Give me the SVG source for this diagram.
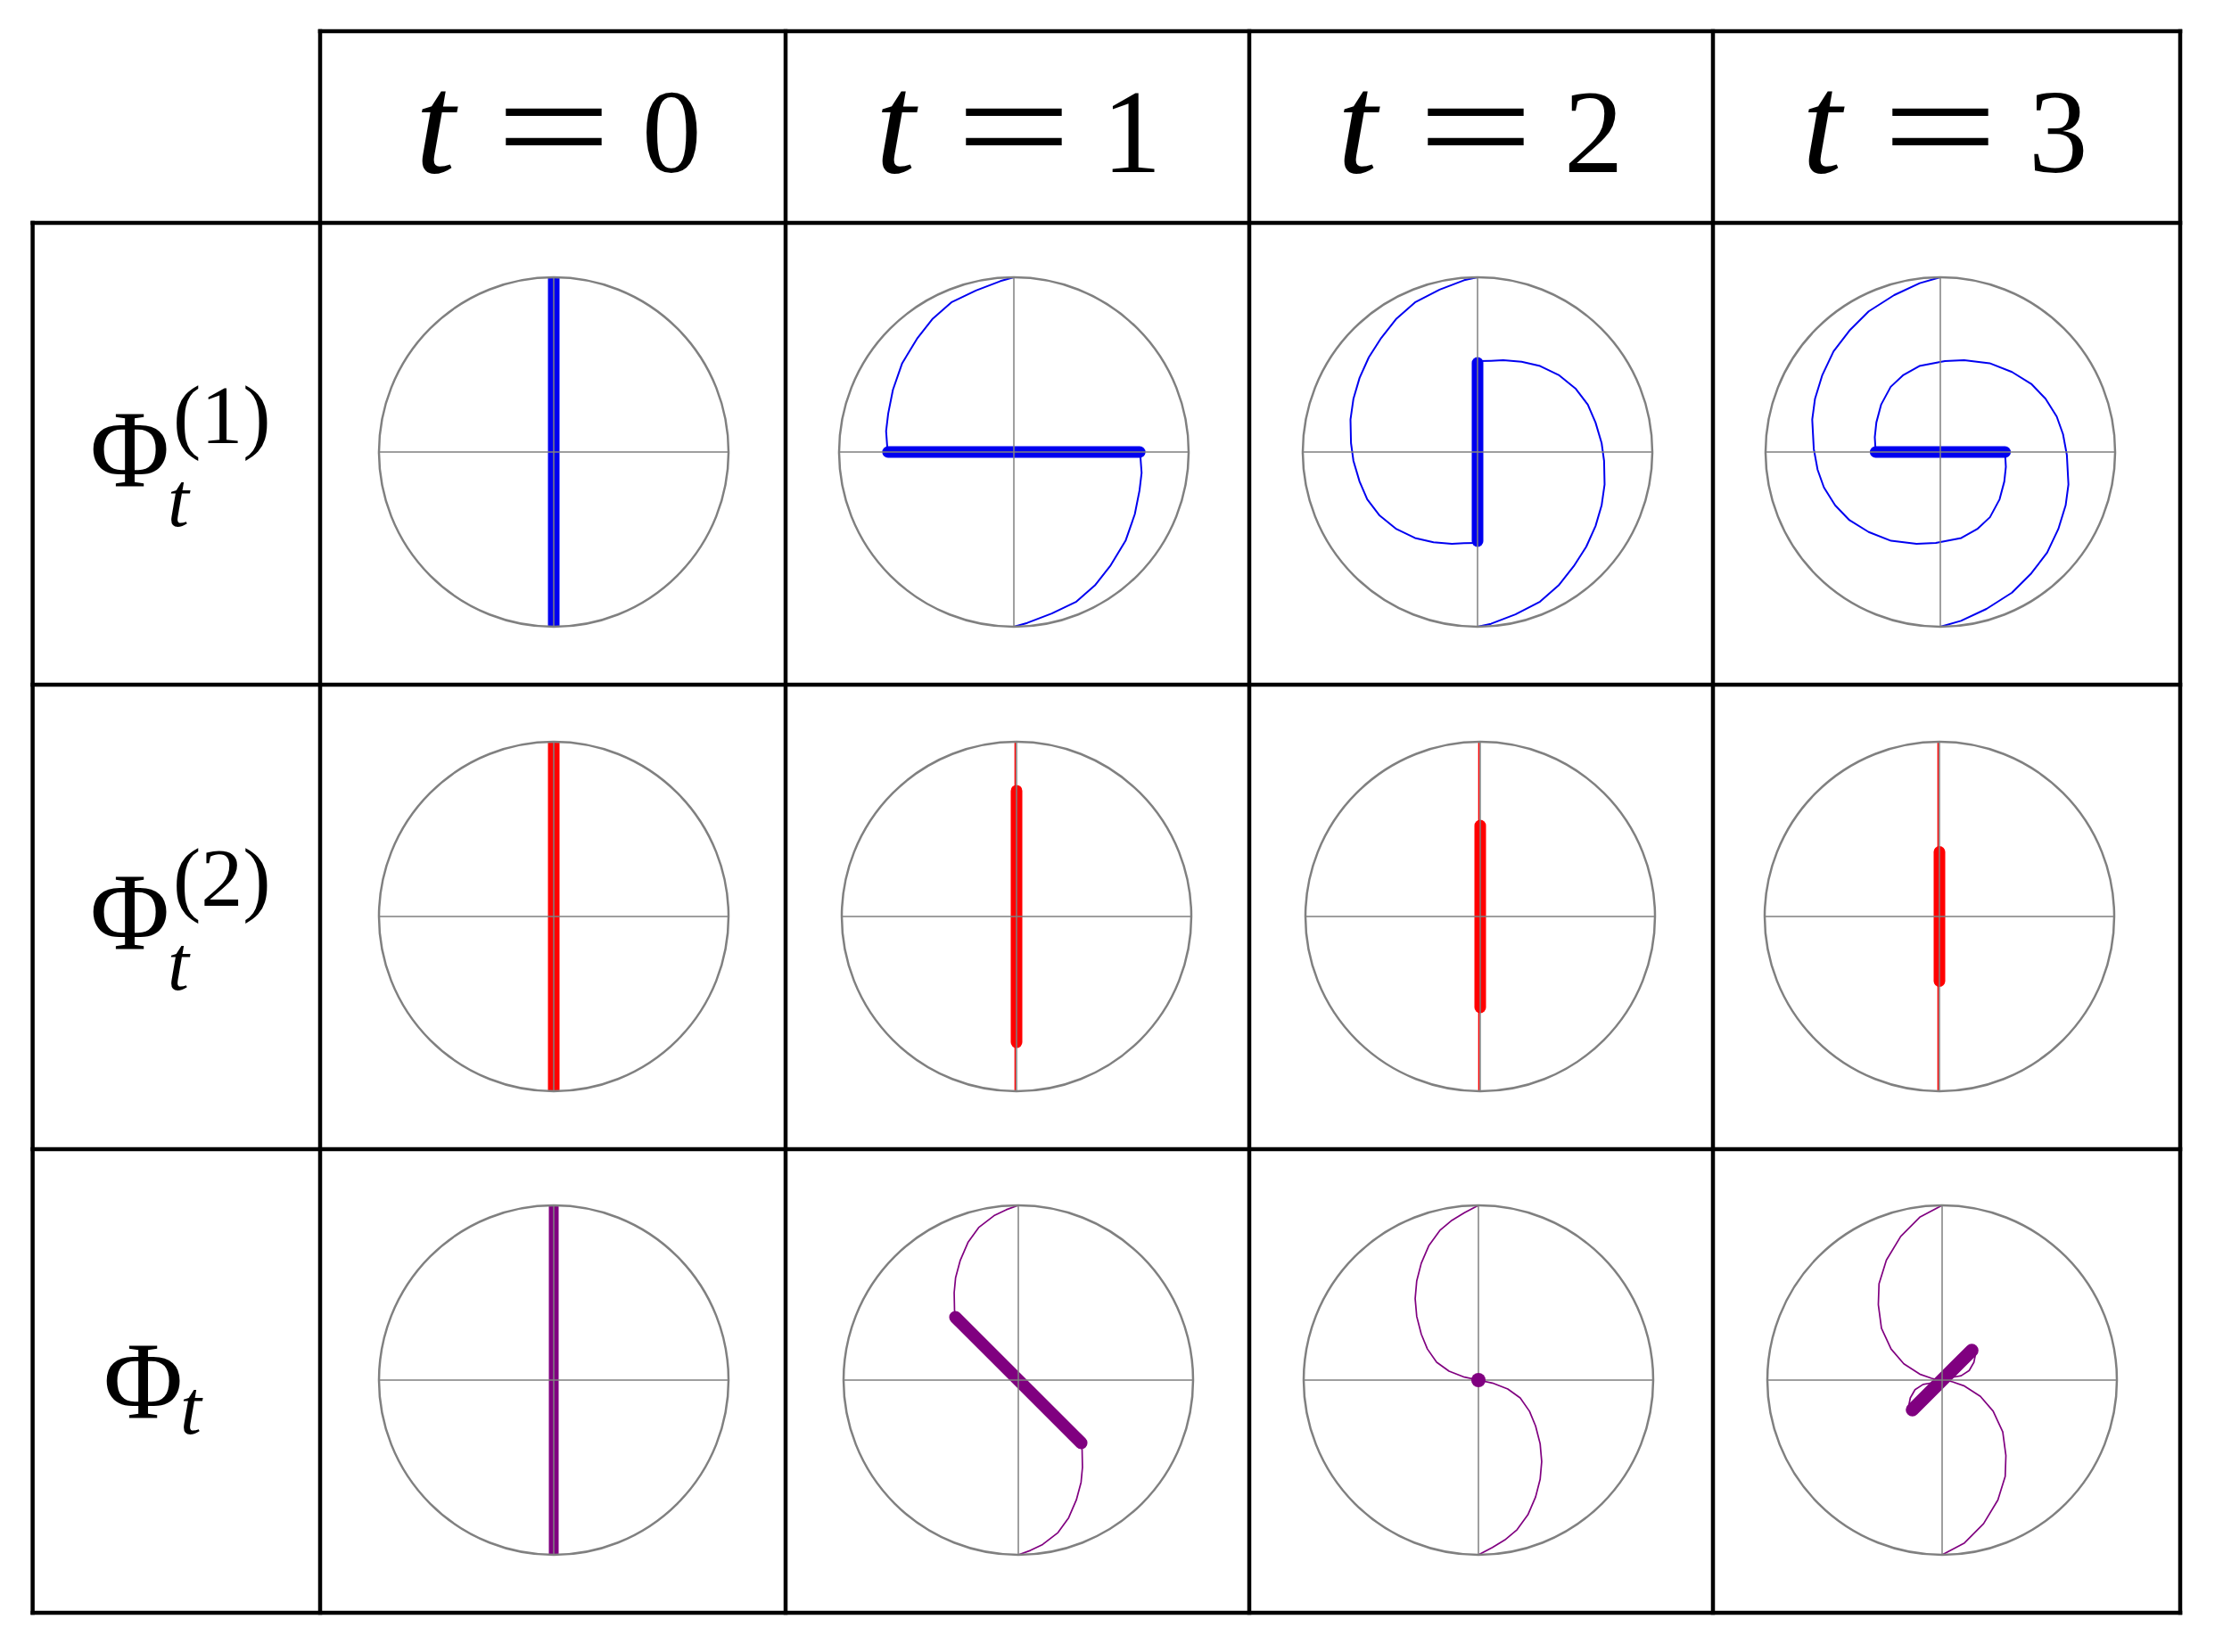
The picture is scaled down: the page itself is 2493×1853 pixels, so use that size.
<svg xmlns="http://www.w3.org/2000/svg" width="2493" height="1853" viewBox="0 0 2493 1853">
<style>
text{font-family:"Liberation Serif","Times New Roman",serif;fill:#000}
.it{font-style:italic}
.hd{font-size:133px}
.ht{font-size:160px}
.eq{font-size:165px;text-anchor:middle}
.phi{font-size:122px}
.sub{font-size:86px}
.sup{font-size:94px}
.grid{fill:none;stroke:#000;stroke-width:4.5;stroke-linecap:square}
.ring{fill:none;stroke:#808080;stroke-width:2.5;vector-effect:non-scaling-stroke}
.axis{fill:none;stroke:#808080;stroke-width:1.5;vector-effect:non-scaling-stroke}
.thin{fill:none;stroke-width:2;stroke-linejoin:round;vector-effect:non-scaling-stroke}
.bar{fill:none;stroke-width:13;stroke-linecap:round;vector-effect:non-scaling-stroke}
.full{stroke-linecap:butt}
.b{stroke:#0000f0}
.r{stroke:#ff0000}
.p{stroke:#800080}
</style>
<defs>
<g id="dial">
<circle class="ring" r="100"/>
<path class="axis" d="M-100 0H100M0 -100V100"/>
</g>
</defs>
<rect width="2493" height="1853" fill="#fff"/>

<g id="grid">
<path class="grid" d="M359 35H2445M36.6 250H2445M36.6 768H2445M36.6 1289H2445M36.6 1809H2445"/>
<path class="grid" d="M36.6 250V1809M359 35V1809M881 35V1809M1401 35V1809M1921 35V1809M2445 35V1809"/>
</g>

<g id="header-t0"><text class="ht it" x="466" y="193">t</text><text class="eq" transform="translate(621 197) scale(1.4 1)">=</text><text class="hd" x="720" y="193">0</text></g>
<g id="header-t1"><text class="ht it" x="982" y="193">t</text><text class="eq" transform="translate(1137 197) scale(1.4 1)">=</text><text class="hd" x="1236" y="193">1</text></g>
<g id="header-t2"><text class="ht it" x="1500" y="193">t</text><text class="eq" transform="translate(1655 197) scale(1.4 1)">=</text><text class="hd" x="1754" y="193">2</text></g>
<g id="header-t3"><text class="ht it" x="2021" y="193">t</text><text class="eq" transform="translate(2176 197) scale(1.4 1)">=</text><text class="hd" x="2275" y="193">3</text></g>

<g id="label-phi1"><text class="phi" x="101" y="545">Φ</text><text class="sub it" x="188" y="590">t</text><text class="sup" x="194" y="497">(1)</text></g>
<g id="label-phi2"><text class="phi" x="101" y="1064">Φ</text><text class="sub it" x="188" y="1110">t</text><text class="sup" x="194" y="1016">(2)</text></g>
<g id="label-phi"><text class="phi" x="116" y="1590">Φ</text><text class="sub it" x="202" y="1608">t</text></g>

<g id="cell-phi1-t0" transform="translate(621 507) scale(1.96)">
<path class="bar full b" d="M0 -100V100"/>
<use href="#dial"/>
</g>
<g id="cell-phi1-t1" transform="translate(1137 507) scale(1.96)">
<path class="thin b" d="M0 -100L-7.7 -97.8L-21.7 -92.4L-35.8 -85.6L-46.4 -76.3L-55.1 -65.3L-63.9 -50.8L-69.2 -35.6L-71.9 -22L-73.1 -11.9L-72.4 -2.5L-72 0M0 100L7.7 97.8L21.7 92.4L35.8 85.6L46.4 76.3L55.1 65.3L63.9 50.8L69.2 35.6L71.9 22L73.1 11.9L72.4 2.5L72 0"/>
<path class="bar b" d="M-72 0H72"/>
<use href="#dial"/>
</g>
<g id="cell-phi1-t2" transform="translate(1657 507) scale(1.96)">
<path class="thin b" d="M0 -100L-7.7 -98.3L-21.7 -92.9L-35.8 -85.6L-46.4 -76.3L-55.1 -65.3L-62.2 -54.2L-67.5 -42.4L-71 -30.5L-72.7 -18.6L-72.4 -5.1L-71 5.1L-67.5 16.9L-63.1 27.1L-56 36.4L-46.4 44.1L-35.8 49.2L-25.2 51.7L-14.7 52.5L-7.7 52.2L0 52M0 100L7.7 98.3L21.7 92.9L35.8 85.6L46.4 76.3L55.1 65.3L62.2 54.2L67.5 42.4L71 30.5L72.7 18.6L72.4 5.1L71 -5.1L67.5 -16.9L63.1 -27.1L56 -36.4L46.4 -44.1L35.8 -49.2L25.2 -51.7L14.7 -52.5L7.7 -52.2L0 -52"/>
<path class="bar b" d="M0 -51V51"/>
<use href="#dial"/>
</g>
<g id="cell-phi1-t3" transform="translate(2176 507) scale(1.96)">
<path class="thin b" d="M0 -100L-11.8 -96.6L-26.4 -89.8L-41 -80.5L-52 -69.5L-61.1 -57.6L-67.5 -44.1L-71.7 -30.5L-73.3 -18.6L-72.4 -1.7L-70.2 10.2L-66.6 20.3L-60.2 30.5L-52 39L-41 45.8L-28.2 50.8L-13.6 52.5L-2.6 52L12 49.2L21.1 44.1L28.4 37.3L33.9 27.1L36.6 16.9L37.5 8.5L37 0M0 100L11.8 96.6L26.4 89.8L41 80.5L52 69.5L61.1 57.6L67.5 44.1L71.7 30.5L73.3 18.6L72.4 1.7L70.2 -10.2L66.6 -20.3L60.2 -30.5L52 -39L41 -45.8L28.2 -50.8L13.6 -52.5L2.6 -52L-12 -49.2L-21.1 -44.1L-28.4 -37.3L-33.9 -27.1L-36.6 -16.9L-37.5 -8.5L-37 0"/>
<path class="bar b" d="M-37 0H37"/>
<use href="#dial"/>
</g>

<g id="cell-phi2-t0" transform="translate(621 1028) scale(1.96)">
<path class="bar full r" d="M0 -100V100"/>
<use href="#dial"/>
</g>
<g id="cell-phi2-t1" transform="translate(1140 1028) scale(1.96)">
<path class="thin r" style="stroke-width:1.5" d="M-0.8 -100V100"/>
<path class="bar r" d="M0 -72V72"/>
<use href="#dial"/>
</g>
<g id="cell-phi2-t2" transform="translate(1660 1028) scale(1.96)">
<path class="thin r" style="stroke-width:1.5" d="M-0.8 -100V100"/>
<path class="bar r" d="M0 -52V52"/>
<use href="#dial"/>
</g>
<g id="cell-phi2-t3" transform="translate(2175 1028) scale(1.96)">
<path class="thin r" style="stroke-width:1.5" d="M-0.8 -100V100"/>
<path class="bar r" d="M0 -37V37"/>
<use href="#dial"/>
</g>

<g id="cell-phi-t0" transform="translate(621 1548) scale(1.96)">
<path class="bar full p" style="stroke-width:11" d="M0 -100V100"/>
<use href="#dial"/>
</g>
<g id="cell-phi-t1" transform="translate(1142 1548) scale(1.96)">
<path class="thin p" style="stroke-width:1.7" d="M0 -100L-6.9 -97.5L-13.9 -94.1L-22.7 -87.3L-28.8 -78.8L-33.2 -68.6L-35.9 -58.5L-36.7 -50L-36.5 -40L-36 -36M0 100L6.9 97.5L13.9 94.1L22.7 87.3L28.8 78.8L33.2 68.6L35.9 58.5L36.7 50L36.5 40L36 36"/>
<path class="bar p" style="stroke-width:14" d="M-36 -36L36 36"/>
<use href="#dial"/>
</g>
<g id="cell-phi-t2" transform="translate(1658 1548) scale(1.96)">
<path class="thin p" style="stroke-width:1.7" d="M0 -100L-8 -95.8L-15.1 -91.5L-22.1 -85.6L-28.3 -77.1L-32.7 -66.9L-35.3 -56.8L-36.2 -46.6L-35.3 -36.4L-32.7 -26.3L-29.2 -17.8L-23.9 -10.2L-16.8 -5.1L-8 -1.7L0 0M0 100L8 95.8L15.1 91.5L22.1 85.6L28.3 77.1L32.7 66.9L35.3 56.8L36.2 46.6L35.3 36.4L32.7 26.3L29.2 17.8L23.9 10.2L16.8 5.1L8 1.7L0 0"/>
<use href="#dial"/>
<circle r="4.1" fill="#800080"/>
</g>
<g id="cell-phi-t3" transform="translate(2178 1548) scale(1.96)">
<path class="thin p" style="stroke-width:1.7" d="M0 -100L-12.8 -93.2L-23.7 -82.2L-31.9 -68.6L-36.1 -55.1L-36.5 -43.2L-34.7 -29.7L-29.2 -17.8L-21.9 -9.3L-12.8 -3.4L-6 -1L-2 0L-3 1.2L-7 1.8L-10.9 2.5L-15.5 5.5L-18.2 10.2L-19.2 15.3L-17 17M0 100L12.8 93.2L23.7 82.2L31.9 68.6L36.1 55.1L36.5 43.2L34.7 29.7L29.2 17.8L21.9 9.3L12.8 3.4L6 1L2 0L3 -1.2L7 -1.8L10.9 -2.5L15.5 -5.5L18.2 -10.2L19.2 -15.3L17 -17"/>
<path class="bar p" style="stroke-width:15" d="M-17 17L17 -17"/>
<use href="#dial"/>
</g>
</svg>
